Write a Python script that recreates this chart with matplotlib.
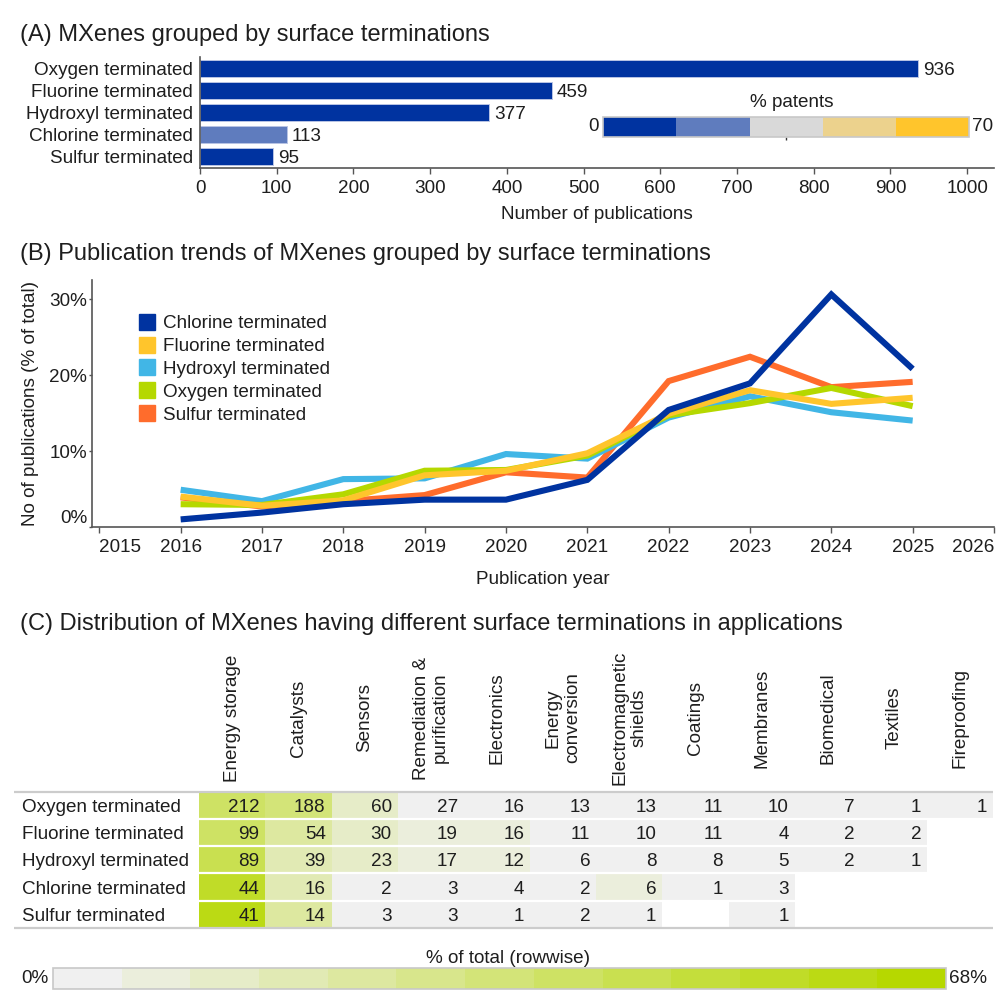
import numpy as np
import matplotlib
matplotlib.use('Agg')
import matplotlib.pyplot as plt
from matplotlib.colors import ListedColormap, BoundaryNorm, LinearSegmentedColormap
from matplotlib.colorbar import ColorbarBase
from matplotlib.lines import Line2D

plt.rcParams['font.family'] = ['Liberation Sans', 'DejaVu Sans']
plt.rcParams['font.size'] = 13.6
TXT = '#1e1e1e'

# ---------------- data ----------------
terminations = ['Oxygen terminated', 'Fluorine terminated', 'Hydroxyl terminated',
                'Chlorine terminated', 'Sulfur terminated']
publications = [936, 459, 377, 113, 95]
patent_pct = [7, 7, 7, 21, 7]          # binned % patents
patent_bounds = [0, 14, 28, 42, 56, 70]
patent_colors = ['#0033a0', '#5f7cbe', '#d9d9d9', '#ecd28d', '#ffc52c']
pub_ticks = [0, 100, 200, 300, 400, 500, 600, 700, 800, 900, 1000]

years = [2016, 2017, 2018, 2019, 2020, 2021, 2022, 2023, 2024, 2025]
year_ticks = [2015, 2016, 2017, 2018, 2019, 2020, 2021, 2022, 2023, 2024, 2025, 2026]
chlorine_pct = [1.0, 1.9, 3.0, 3.6, 3.6, 6.2, 15.4, 18.9, 30.6, 20.8]
fluorine_pct = [4.0, 2.8, 3.5, 6.8, 7.4, 9.7, 14.9, 18.0, 16.2, 17.0]
hydroxyl_pct = [4.9, 3.4, 6.3, 6.4, 9.6, 9.0, 14.4, 17.2, 15.1, 14.0]
oxygen_pct = [3.0, 2.9, 4.3, 7.4, 7.5, 9.4, 14.7, 16.3, 18.3, 15.9]
sulfur_pct = [3.9, 2.7, 3.4, 4.2, 7.2, 6.5, 19.2, 22.4, 18.4, 19.1]
trend_names = ['Chlorine terminated', 'Fluorine terminated', 'Hydroxyl terminated',
               'Oxygen terminated', 'Sulfur terminated']
trend_colors = ['#0033a0', '#ffc52c', '#41b6e6', '#b5d800', '#ff6c2c']

applications = ['Energy storage', 'Catalysts', 'Sensors', 'Remediation &\npurification',
                'Electronics', 'Energy\nconversion', 'Electromagnetic\nshields', 'Coatings',
                'Membranes', 'Biomedical', 'Textiles', 'Fireproofing']
oxygen_apps = [212, 188, 60, 27, 16, 13, 13, 11, 10, 7, 1, 1]
fluorine_apps = [99, 54, 30, 19, 16, 11, 10, 11, 4, 2, 2, None]
hydroxyl_apps = [89, 39, 23, 17, 12, 6, 8, 8, 5, 2, 1, None]
chlorine_apps = [44, 16, 2, 3, 4, 2, 6, 1, 3, None, None, None]
sulfur_apps = [41, 14, 3, 3, 1, 2, 1, None, 1, None, None, None]
heat_max = 68
heat_bins = 13

# ---------------- figure ----------------
W = H = 1008
fig = plt.figure(figsize=(W / 100, H / 100), dpi=100)


def px_axes(l, t, r, b):
    return fig.add_axes([l / W, 1 - b / H, (r - l) / W, (b - t) / H])


def fx(x):
    return x / W


def fy(y):
    return 1 - y / H


TITLE_FS = 17

# ---------------- Panel A ----------------
fig.text(fx(20), fy(35), '(A) MXenes grouped by surface terminations', fontsize=TITLE_FS,
         ha='left', va='center', color=TXT)
axA = px_axes(200, 57.2, 994, 167.7)
pcmap = ListedColormap(patent_colors)
pnorm = BoundaryNorm(patent_bounds, pcmap.N)
ypos = np.arange(len(terminations))
axA.barh(ypos, publications, height=0.78, color=pcmap(pnorm(patent_pct)),
         edgecolor='#b8c4e4', linewidth=0.7)
for y, v in zip(ypos, publications):
    axA.annotate(str(v), (v, y), xytext=(3.5, 0), textcoords='offset points',
                 ha='left', va='center_baseline', color=TXT)
axA.set_ylim(len(terminations) - 0.5, -0.5)
axA.set_xlim(0, 1035)
axA.set_yticks(ypos)
axA.set_yticklabels(terminations, color=TXT)
axA.set_xticks(pub_ticks)
axA.tick_params(axis='y', length=0, pad=5.3)
axA.tick_params(axis='x', length=4, width=1, color='#555555', pad=4.5, labelcolor=TXT)
for s in ['top', 'right']:
    axA.spines[s].set_visible(False)
for s in ['left', 'bottom']:
    axA.spines[s].set_color('#555555')
    axA.spines[s].set_linewidth(1.2)
axA.set_xlabel('Number of publications', color=TXT, labelpad=7)

caxA = px_axes(603, 116.7, 969.3, 136.7)
cbA = ColorbarBase(caxA, cmap=pcmap, norm=pnorm, orientation='horizontal')
cbA.outline.set_edgecolor('#c8c8c8')
cbA.outline.set_linewidth(1.2)
cbA.minorticks_off()
cbA.set_ticks([35])
cbA.set_ticklabels([''])
caxA.tick_params(axis='x', which='both', length=2, width=1, color='#333333')
caxA.text(-0.012, 0.5, '0', transform=caxA.transAxes, ha='right', va='center', color=TXT)
caxA.text(1.008, 0.5, '70', transform=caxA.transAxes, ha='left', va='center', color=TXT)
caxA.text(0.515, 1.7, '% patents', transform=caxA.transAxes, ha='center', va='center', color=TXT)

# ---------------- Panel B ----------------
fig.text(fx(20), fy(254), '(B) Publication trends of MXenes grouped by surface terminations',
         fontsize=TITLE_FS, ha='left', va='center', color=TXT)
axB = px_axes(92, 280, 994, 527)
series = {'Chlorine terminated': chlorine_pct, 'Fluorine terminated': fluorine_pct,
          'Hydroxyl terminated': hydroxyl_pct, 'Oxygen terminated': oxygen_pct,
          'Sulfur terminated': sulfur_pct}
colmap = dict(zip(trend_names, trend_colors))
draw_order = ['Sulfur terminated', 'Hydroxyl terminated', 'Oxygen terminated',
              'Fluorine terminated', 'Chlorine terminated']
for name in draw_order:
    axB.plot(years, series[name], color=colmap[name], lw=4.4, solid_joinstyle='miter',
             solid_capstyle='butt')
axB.set_xlim(2014.91, 2026)
axB.set_ylim(0, 32.5)
axB.set_xticks(year_ticks)
axB.set_xticklabels([str(y) for y in year_ticks])
xl = axB.get_xticklabels()
xl[0].set_ha('left')
xl[-1].set_ha('right')
axB.set_yticks([0, 10, 20, 30])
axB.set_yticklabels(['0%', '10%', '20%', '30%'])
axB.get_yticklabels()[0].set_va('bottom')
axB.tick_params(axis='x', length=4, width=1, color='#555555', pad=4.5, labelcolor=TXT)
axB.tick_params(axis='y', length=2, width=1, color='#555555', pad=1.5, labelcolor=TXT)
for s in ['top', 'right']:
    axB.spines[s].set_visible(False)
for s in ['left', 'bottom']:
    axB.spines[s].set_color('#555555')
    axB.spines[s].set_linewidth(1.2)
axB.set_xlabel('Publication year', color=TXT, labelpad=11)
fig.text(fx(31), fy(404), 'No of publications (% of total)', rotation=90, ha='center',
         va='center', color=TXT)
handles = [Line2D([], [], marker='s', linestyle='none', markersize=11.5,
                  markerfacecolor=c, markeredgecolor=c) for c in trend_colors]
axB.legend(handles, trend_names, loc='upper left', bbox_to_anchor=(fx(139), fy(315)),
           bbox_transform=fig.transFigure, frameon=False, handlelength=0.85,
           handletextpad=0.4, labelspacing=0.3, borderpad=0, borderaxespad=0,
           labelcolor=TXT)

# ---------------- Panel C ----------------
fig.text(fx(20), fy(624), '(C) Distribution of MXenes having different surface terminations in applications',
         fontsize=TITLE_FS, ha='left', va='center', color=TXT)
rows = [oxygen_apps, fluorine_apps, hydroxyl_apps, chlorine_apps, sulfur_apps]
vals = np.array([[np.nan if v is None else v for v in r] for r in rows], dtype=float)
pct = vals / np.nansum(vals, axis=1, keepdims=True) * 100
gcmap_cont = LinearSegmentedColormap.from_list('g', ['#f0f0f0', '#b6d800'])
gcmap = ListedColormap([gcmap_cont(i / (heat_bins - 1)) for i in range(heat_bins)])
gcmap.set_bad('white')
gnorm = BoundaryNorm(np.linspace(0, heat_max, heat_bins + 1), gcmap.N)

axC = px_axes(199.3, 791.7, 993.3, 928)
nr, nc = vals.shape
axC.pcolormesh(np.arange(nc + 1), np.arange(nr + 1), np.ma.masked_invalid(pct),
               cmap=gcmap, norm=gnorm)
axC.set_xlim(0, nc)
axC.set_ylim(nr, 0)
axC.axis('off')
for i in range(1, nr):
    axC.axhline(i, color='white', lw=1.6)
col_px = (993.3 - 199.3) / nc
xleft = (14.3 - 199.3) / col_px
for yl in [0, nr]:
    axC.plot([xleft, nc], [yl, yl], color='#cccccc', lw=1.6, clip_on=False,
             solid_capstyle='butt')
for r in range(nr):
    axC.text((21.7 - 199.3) / col_px, r + 0.5, terminations[r], ha='left',
             va='center_baseline', color=TXT)
    for c in range(nc):
        if not np.isnan(vals[r, c]):
            axC.text(c + 1 - 6 / col_px, r + 0.5, str(int(vals[r, c])), ha='right',
                     va='center_baseline', color=TXT)
hdr_y = (718 - 791.7) / ((928 - 791.7) / nr)
for c, name in enumerate(applications):
    axC.text(c + 0.5, hdr_y, name, rotation=90, ha='center', va='center',
             multialignment='center', color=TXT, clip_on=False)

caxC = px_axes(53, 967.7, 946, 989)
cbC = ColorbarBase(caxC, cmap=gcmap, norm=gnorm, orientation='horizontal')
cbC.outline.set_edgecolor('#c8c8c8')
cbC.outline.set_linewidth(1.2)
cbC.minorticks_off()
cbC.set_ticks([])
caxC.tick_params(axis='x', which='both', length=0)
caxC.text(-0.005, 0.5, '0%', transform=caxC.transAxes, ha='right', va='center', color=TXT)
caxC.text(1.003, 0.5, '68%', transform=caxC.transAxes, ha='left', va='center', color=TXT)
caxC.text(0.51, 1.45, '% of total (rowwise)', transform=caxC.transAxes, ha='center',
          va='center', color=TXT)

fig.savefig('out.png', dpi=100)
